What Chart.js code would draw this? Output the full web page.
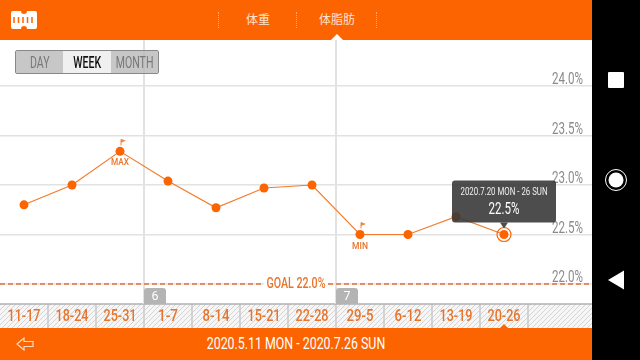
<!DOCTYPE html>
<html>
<head>
<meta charset="utf-8">
<script src="https://cdn.jsdelivr.net/npm/chart.js@4"></script>
<style>
html, body { margin: 0; padding: 0; background: #fff; overflow: hidden; }
body { width: 640px; height: 360px; position: relative; font-family: Roboto, sans-serif; }
#header { position: absolute; left: 0; top: 0; width: 592px; height: 40px; background: #fb6400; }
#header span { position: absolute; top: 11px; color: #ffe3cf; font: 12px "Noto Sans CJK JP"; line-height: 16px; transform: translateX(-50%); }
#header i { position: absolute; top: 12px; height: 16px; border-left: 1px dotted #fdaa75; }
#headerArrow { position: absolute; left: 331px; top: 34px; width: 0; height: 0; border-left: 6px solid transparent; border-right: 6px solid transparent; border-bottom: 6px solid #fff; z-index: 3; }
#footer { position: absolute; left: 0; top: 328px; width: 592px; height: 32px; background: #fb6400; color: #fff; font-size: 16.500px; line-height: 32px; text-align: center; }
#footer b { display: inline-block; font-weight: 400; transform: scaleX(0.75); white-space: nowrap; }
#footerArrow { position: absolute; left: 500px; top: 324px; width: 0; height: 0; border-left: 4px solid transparent; border-right: 4px solid transparent; border-bottom: 4px solid #fb6400; z-index: 3; }
#nav { position: absolute; left: 592px; top: 0; width: 48px; height: 360px; background: #000; }
#chartBox { position: absolute; left: 0; top: 40px; width: 592px; height: 288px; }
#toggle { position: absolute; left: 15px; top: 50px; width: 142px; height: 22px; border: 1px solid #888; border-radius: 2px; display: flex; z-index: 2; font-size: 16px; line-height: 23px; text-align: center; color: #777; }
#toggle div { width: 47.300px; background: rgba(185,185,185,0.8); }
#toggle div b { display: inline-block; margin: 0 -8px; font-weight: 400; transform: scaleX(0.66); }
#toggle div.on { background: #f0f0f0; color: #111; }
#toggle div.on b { font-weight: 500; }
</style>
</head>
<body>
<div id="header">
  <svg style="position:absolute;left:11px;top:10px" width="26" height="20">
    <path d="M2 1h8a2 2 0 0 0 6 0h8a2 2 0 0 1 2 2v14a2 2 0 0 1-2 2h-8a2 2 0 0 0-6 0H2a2 2 0 0 1-2-2V3a2 2 0 0 1 2-2z" fill="#fff"/>
    <path d="M3 7v6M7.500 7v6M12 7v6M16.500 7v6M21 7v6" stroke="#fb6400" stroke-width="1.500"/>
  </svg>
  <i style="left:218px"></i><i style="left:296px"></i><i style="left:376px"></i>
  <span style="left:258px">体重</span>
  <span style="left:337px">体脂肪</span>
</div>
<div id="headerArrow"></div>
<div id="toggle"><div><b>DAY</b></div><div class="on"><b>WEEK</b></div><div><b>MONTH</b></div></div>
<div id="chartBox"><canvas id="fatChart" width="592" height="288"></canvas></div>
<div id="footer"><b>2020.5.11 MON - 2020.7.26 SUN</b>
  <svg style="position:absolute;left:16px;top:9px" width="18" height="14">
    <path d="M1 7l7-6v3.500h9v5H8V13z" fill="none" stroke="#ffd9c0" stroke-width="1.200"/>
  </svg>
</div>
<div id="footerArrow"></div>
<div id="nav">
  <svg width="48" height="360">
    <rect x="16" y="72" width="16" height="16" rx="1" fill="#fff"/>
    <circle cx="24" cy="180" r="10.500" fill="none" stroke="#fff" stroke-width="1"/>
    <circle cx="24" cy="180" r="7.500" fill="#fff"/>
    <path d="M16 280l16-9.500v19z" fill="#fff"/>
  </svg>
</div>
<script>
const weekLabels = ['11-17', '18-24', '25-31', '1-7', '8-14', '15-21', '22-28', '29-5', '6-12', '13-19', '20-26'];
const fatValues = [22.8, 23.0, 23.34, 23.04, 22.77, 22.97, 23.0, 22.5, 22.5, 22.68, 22.5];
const yTickValues = [22, 22.5, 23, 23.5, 24];
const goalValue = 22;
const monthBreaks = [2.5, 6.5];
const monthNames = ['6', '7'];
const maxIndex = 2;
const minIndex = 7;
const selectedIndex = 10;
const tooltipTitle = '2020.7.20 MON - 26 SUN';
const tooltipValue = '22.5%';

const ORANGE = '#fb6400';

function hatchPattern(ctx) {
    const c = document.createElement('canvas');
    c.width = 5;
    c.height = 5;
    const p = c.getContext('2d');
    p.fillStyle = '#f6f6f6';
    p.fillRect(0, 0, 5, 5);
    p.strokeStyle = '#d4d4d4';
    p.lineWidth = 1;
    p.beginPath();
    p.moveTo(-1, 6);
    p.lineTo(6, -1);
    p.moveTo(-1, 1);
    p.lineTo(1, -1);
    p.moveTo(4, 6);
    p.lineTo(6, 4);
    p.stroke();
    return ctx.createPattern(c, 'repeat');
}

function drawFlag(ctx, x, y) {
    ctx.strokeStyle = '#f08a40';
    ctx.lineWidth = 1;
    ctx.beginPath();
    ctx.moveTo(x, y);
    ctx.lineTo(x, y - 6);
    ctx.stroke();
    ctx.fillStyle = '#f08a40';
    ctx.beginPath();
    ctx.moveTo(x, y - 6.5);
    ctx.lineTo(x + 5, y - 4.5);
    ctx.lineTo(x, y - 2.5);
    ctx.fill();
}

function zeroPadding(axis) {
    axis.paddingLeft = 0;
    axis.paddingRight = 0;
    axis.paddingTop = 0;
    axis.paddingBottom = 0;
}

// everything the library has no element for: strip, month tabs, goal, flags, tooltip
const decorations = {
    id: 'decorations',
    beforeDatasetsDraw(chart) {
        const { ctx, scales: { x, y }, chartArea } = chart;
        ctx.save();
        // month separators
        ctx.strokeStyle = '#e2e2e2';
        ctx.lineWidth = 2;
        monthBreaks.forEach(b => {
            const px = x.getPixelForValue(b);
            ctx.beginPath();
            ctx.moveTo(px, chartArea.top);
            ctx.lineTo(px, chartArea.bottom);
            ctx.stroke();
        });
        // goal
        const gy = y.getPixelForValue(goalValue);
        ctx.strokeStyle = '#e0703a';
        ctx.lineWidth = 1.5;
        ctx.setLineDash([5, 3]);
        ctx.beginPath();
        ctx.moveTo(chartArea.left, gy);
        ctx.lineTo(chartArea.right, gy);
        ctx.stroke();
        ctx.setLineDash([]);
        ctx.fillStyle = '#fff';
        ctx.fillRect(264, gy - 7, 64, 14);
        ctx.fillStyle = '#e8742c';
        ctx.font = '500 15.5px Roboto';
        ctx.textAlign = 'center';
        ctx.textBaseline = 'middle';
        ctx.fillText('GOAL ' + goalValue.toFixed(1) + '%', 296, gy, 59);
        // month tabs
        monthBreaks.forEach((b, i) => {
            const px = x.getPixelForValue(b);
            ctx.fillStyle = '#b4b4b4';
            ctx.beginPath();
            ctx.roundRect(px, chartArea.bottom - 16, 22, 16, [3, 3, 0, 0]);
            ctx.fill();
            ctx.fillStyle = '#fff';
            ctx.font = '13px Roboto';
            ctx.fillText(monthNames[i], px + 11, chartArea.bottom - 7, 7);
        });
        // y labels come from the axis ticks
        ctx.textAlign = 'right';
        ctx.fillStyle = '#8a8a8a';
        ctx.font = '16px Roboto';
        y.ticks.forEach(t => {
            ctx.fillText(t.label, 583, y.getPixelForValue(t.value) - 6, 31);
        });
        ctx.restore();
    },
    afterDraw(chart) {
        const { ctx, scales: { x, y }, chartArea } = chart;
        ctx.save();
        // week labels come from the axis ticks
        ctx.textAlign = 'center';
        ctx.textBaseline = 'middle';
        ctx.fillStyle = '#e8742c';
        ctx.font = '500 16.5px Roboto';
        x.ticks.forEach(t => {
            ctx.fillText(t.label, x.getPixelForValue(t.value), chartArea.bottom + 12.5, t.label.length > 3 ? (t.label.length > 4 ? 33 : 27) : 20);
        });
        // MAX / MIN
        [[maxIndex, 'MAX'], [minIndex, 'MIN']].forEach(([i, text]) => {
            const px = x.getPixelForValue(i);
            const py = y.getPixelForValue(fatValues[i]);
            drawFlag(ctx, px + 1, py - 6);
            ctx.fillStyle = '#e8742c';
            ctx.font = '500 8.5px Roboto';
            ctx.fillText(text, px, py + 12, 18);
        });
        // selected ring
        const sx = x.getPixelForValue(selectedIndex);
        const sy = y.getPixelForValue(fatValues[selectedIndex]);
        ctx.strokeStyle = ORANGE;
        ctx.lineWidth = 1.2;
        ctx.beginPath();
        ctx.arc(sx, sy, 7, 0, Math.PI * 2);
        ctx.stroke();
        // tooltip
        ctx.fillStyle = 'rgba(58,58,58,0.9)';
        ctx.beginPath();
        ctx.roundRect(sx - 52, sy - 54, 104, 42, 3);
        ctx.fill();
        ctx.beginPath();
        ctx.moveTo(sx - 4, sy - 12);
        ctx.lineTo(sx + 4, sy - 12);
        ctx.lineTo(sx, sy - 6);
        ctx.fill();
        ctx.fillStyle = '#f0f0f0';
        ctx.font = '10.5px Roboto';
        ctx.fillText(tooltipTitle, sx, sy - 42, 87);
        ctx.fillStyle = '#fff';
        ctx.font = '16.5px Roboto';
        ctx.fillText(tooltipValue, sx, sy - 25, 31);
        ctx.restore();
    }
};

const stripBackground = {
    id: 'stripBackground',
    beforeDraw(chart) {
        const { ctx, scales: { x }, chartArea, width, height } = chart;
        ctx.save();
        ctx.fillStyle = hatchPattern(ctx);
        ctx.fillRect(0, chartArea.bottom, width, height - chartArea.bottom);
        ctx.strokeStyle = '#c8c8c8';
        ctx.lineWidth = 1.5;
        weekLabels.forEach((w, i) => {
            const px = x.getPixelForValue(i + 0.5);
            ctx.beginPath();
            ctx.moveTo(px, chartArea.bottom);
            ctx.lineTo(px, height);
            ctx.stroke();
        });
        ctx.strokeStyle = '#b0b0b0';
        ctx.beginPath();
        ctx.moveTo(0, chartArea.bottom);
        ctx.lineTo(width, chartArea.bottom);
        ctx.stroke();
        ctx.restore();
    }
};

const ctx = document.getElementById('fatChart').getContext('2d');
new Chart(ctx, {
    type: 'line',
    data: {
        labels: weekLabels,
        datasets: [{
            data: fatValues.map((v, i) => ({ x: i, y: v })),
            borderColor: '#f57a2a',
            borderWidth: 1.2,
            backgroundColor: ORANGE,
            pointBackgroundColor: ORANGE,
            pointBorderWidth: 0,
            pointRadius: 4.5,
            tension: 0
        }]
    },
    options: {
        responsive: false,
        animation: false,
        layout: { padding: 0, autoPadding: false },
        plugins: { legend: { display: false }, tooltip: { enabled: false } },
        scales: {
            x: {
                type: 'linear',
                min: -0.5,
                max: 11.8333,
                afterFit(axis) { axis.height = 24; zeroPadding(axis); },
                afterBuildTicks(axis) { axis.ticks = weekLabels.map((w, i) => ({ value: i })); },
                grid: { display: false, drawTicks: false },
                border: { display: false },
                ticks: {
                    display: false,
                    autoSkip: false,
                    maxRotation: 0,
                    callback: value => weekLabels[value]
                }
            },
            y: {
                position: 'right',
                min: 21.798,
                max: 24.465,
                afterFit(axis) { axis.width = 0; zeroPadding(axis); },
                afterBuildTicks(axis) { axis.ticks = yTickValues.map(v => ({ value: v })); },
                grid: { color: '#e2e2e2', lineWidth: 1.5, drawTicks: false },
                border: { display: false },
                ticks: {
                    display: false,
                    callback: value => value.toFixed(1) + '%'
                }
            }
        }
    },
    plugins: [stripBackground, decorations]
});
</script>
</body>
</html>
